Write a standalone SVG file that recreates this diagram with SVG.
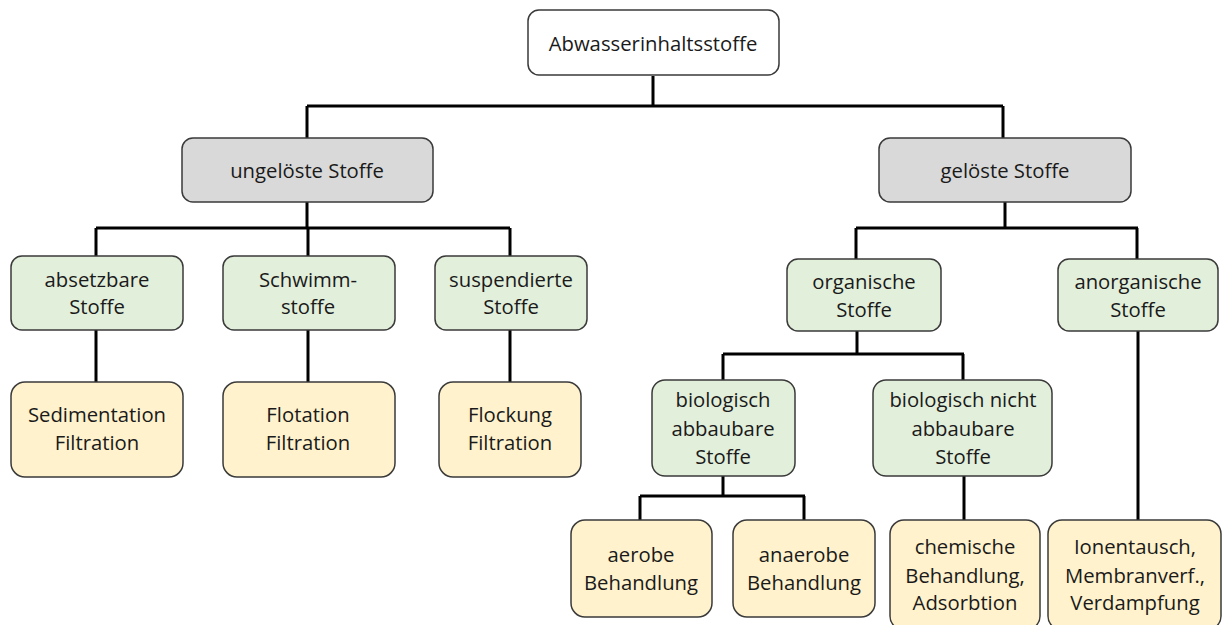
<svg xmlns="http://www.w3.org/2000/svg" width="1227" height="625" viewBox="0 0 1227 625">
<style>
.box{stroke:#3a3a3a;stroke-width:1.5}
.w{fill:#ffffff}.g{fill:#d9d9d9}.gr{fill:#e2efda}.y{fill:#fff2cc}
text{font-family:"Open Sans","Liberation Sans",sans-serif;font-size:20.3px;fill:#1a1a1a;text-anchor:middle;dominant-baseline:central}
.c{fill:none;stroke:#000;stroke-width:3}
</style>
<rect width="1227" height="625" fill="#fff"/>
<g id="connectors">
<path class="c" d="M653 76V106M307 106H1003M307 106V138M1003 106V138"/>
<path class="c" d="M307 202V228M96 228H510M96 228V256M308 228V256M510 228V256"/>
<path class="c" d="M1005 202V228M856 228H1138M856 228V259M1137 228V259"/>
<path class="c" d="M96 330V382M308 330V382M510 330V382"/>
<path class="c" d="M857 331V354M723 354H964M723 354V380M963 354V380"/>
<path class="c" d="M723 476V496M640 496H805M640 496V520M804 496V520"/>
<path class="c" d="M964 476V520M1138 331V520"/>
</g>
<g id="n-root"><rect class="box w" x="528" y="10" width="251" height="65" rx="11"/><text x="653" y="43">Abwasserinhaltsstoffe</text></g>
<g id="n-ungeloest"><rect class="box g" x="182" y="138" width="251" height="64" rx="11"/><text x="307" y="170">ungelöste Stoffe</text></g>
<g id="n-geloest"><rect class="box g" x="879" y="138" width="252" height="64" rx="11"/><text x="1005" y="170">gelöste Stoffe</text></g>
<g id="n-absetzbar"><rect class="box gr" x="11" y="256" width="172" height="74" rx="11"/><text x="97" y="279">absetzbare</text><text x="97" y="306">Stoffe</text></g>
<g id="n-schwimm"><rect class="box gr" x="223" y="256" width="172" height="74" rx="11"/><text x="308" y="279">Schwimm-</text><text x="308" y="306">stoffe</text></g>
<g id="n-suspend"><rect class="box gr" x="435" y="256" width="152" height="74" rx="11"/><text x="511" y="279">suspendierte</text><text x="511" y="306">Stoffe</text></g>
<g id="n-sediment"><rect class="box y" x="11" y="382" width="172" height="95" rx="14"/><text x="97" y="414">Sedimentation</text><text x="97" y="442">Filtration</text></g>
<g id="n-flotation"><rect class="box y" x="223" y="382" width="172" height="95" rx="14"/><text x="308" y="414">Flotation</text><text x="308" y="442">Filtration</text></g>
<g id="n-flockung"><rect class="box y" x="439" y="382" width="142" height="95" rx="14"/><text x="510" y="414">Flockung</text><text x="510" y="442">Filtration</text></g>
<g id="n-organisch"><rect class="box gr" x="787" y="259" width="154" height="72" rx="11"/><text x="864" y="281">organische</text><text x="864" y="309">Stoffe</text></g>
<g id="n-anorganisch"><rect class="box gr" x="1058" y="259" width="160" height="72" rx="11"/><text x="1138" y="281">anorganische</text><text x="1138" y="309">Stoffe</text></g>
<g id="n-bioabbau"><rect class="box gr" x="652" y="380" width="143" height="96" rx="13"/><text x="723" y="399">biologisch</text><text x="723" y="428">abbaubare</text><text x="723" y="456">Stoffe</text></g>
<g id="n-bionicht"><rect class="box gr" x="873" y="380" width="179" height="96" rx="13"/><text x="963" y="399">biologisch nicht</text><text x="963" y="428">abbaubare</text><text x="963" y="456">Stoffe</text></g>
<g id="n-aerob"><rect class="box y" x="571" y="520" width="141" height="97" rx="14"/><text x="641" y="554">aerobe</text><text x="641" y="582">Behandlung</text></g>
<g id="n-anaerob"><rect class="box y" x="733" y="520" width="142" height="97" rx="14"/><text x="804" y="554">anaerobe</text><text x="804" y="582">Behandlung</text></g>
<g id="n-chemisch"><rect class="box y" x="890" y="520" width="150" height="110" rx="14"/><text x="965" y="546">chemische</text><text x="965" y="575">Behandlung,</text><text x="965" y="602">Adsorbtion</text></g>
<g id="n-ionen"><rect class="box y" x="1048" y="520" width="173" height="110" rx="14"/><text x="1135" y="546">Ionentausch,</text><text x="1135" y="575">Membranverf.,</text><text x="1135" y="602">Verdampfung</text></g>
</svg>
